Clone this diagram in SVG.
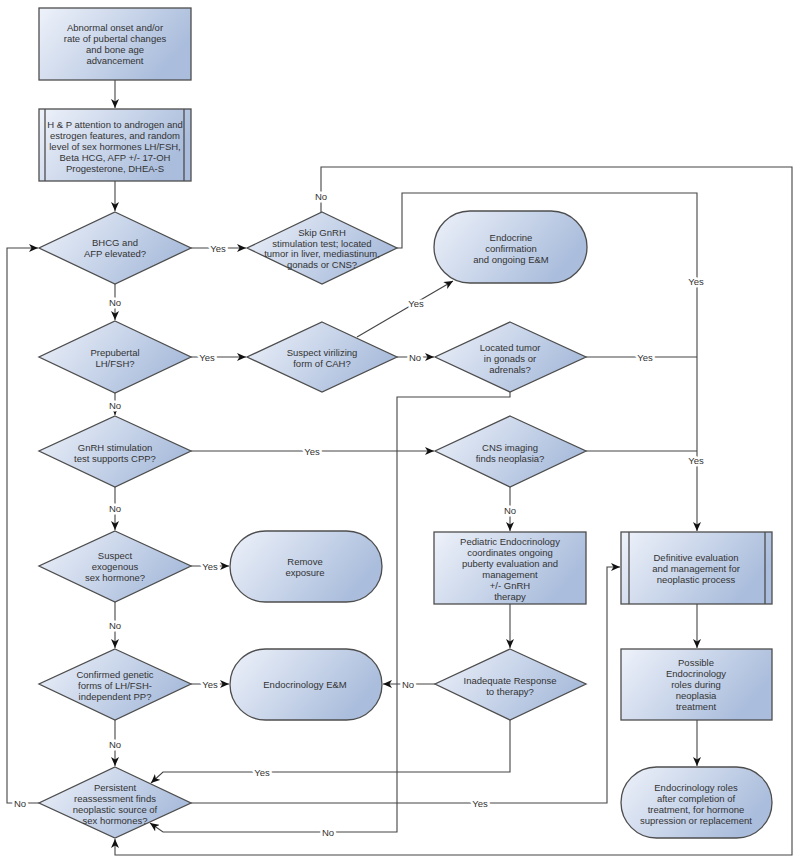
<svg xmlns="http://www.w3.org/2000/svg" width="800" height="863" viewBox="0 0 800 863">
<defs>
<linearGradient id="g" x1="0" y1="0" x2="1" y2="0.4">
<stop offset="0" stop-color="#eef2fa"/>
<stop offset="1" stop-color="#aabddc"/>
</linearGradient>
<marker id="ar" markerUnits="userSpaceOnUse" markerWidth="10" markerHeight="8" refX="9" refY="4" orient="auto">
<path d="M0,0 L9,4 L0,8 L2.5,4 Z" fill="#111"/>
</marker>
</defs>
<style>
.n{fill:url(#g);stroke:#4d4d4d;stroke-width:1.3}
.t{font-family:"Liberation Sans",Arial,sans-serif;font-size:9.5px;fill:#333;text-anchor:middle}
.c{fill:none;stroke:#444;stroke-width:1.1}
.a{marker-end:url(#ar)}
.l{font-family:"Liberation Sans",Arial,sans-serif;font-size:9.5px;fill:#333;text-anchor:middle;stroke:#fff;stroke-width:5;paint-order:stroke;stroke-linejoin:round}
.i{fill:none;stroke:#4d4d4d;stroke-width:1.3}
</style>
<rect width="800" height="863" fill="#fff"/>

<g id="connectors">
<path class="c a" d="M115,80 V108"/>
<path class="c a" d="M115,181 V211"/>
<path class="c a" d="M191,248 H246"/>
<path class="c a" d="M321,212 V167 H792 V855 H115 V839"/>
<path class="c a" d="M397,248 H402 V193 H697 V531"/>
<path class="c a" d="M115,284 V320"/>
<path class="c a" d="M191,357 H246"/>
<path class="c a" d="M357,337 L453,281"/>
<path class="c a" d="M397,357 H434"/>
<path class="c" d="M586,357 H697"/>
<path class="c a" d="M510,392 V397 H397 V832 H163 L150,823"/>
<path class="c a" d="M115,393 V415"/>
<path class="c a" d="M191,451 H434"/>
<path class="c" d="M586,451 H697"/>
<path class="c a" d="M115,487 V530"/>
<path class="c a" d="M510,487 V531"/>
<path class="c a" d="M191,566 H229"/>
<path class="c a" d="M115,602 V648"/>
<path class="c a" d="M191,684 H229"/>
<path class="c a" d="M115,720 V766"/>
<path class="c a" d="M510,604 V648"/>
<path class="c a" d="M435,684 H383"/>
<path class="c a" d="M510,720 V772 H163 L151,783"/>
<path class="c a" d="M39,803 H7 V248 H38"/>
<path class="c a" d="M191,803 H607 V567 H620"/>
<path class="c a" d="M697,604 V648"/>
<path class="c a" d="M697,720 V766"/>
<text class="l" x="115" y="305.5">No</text>
<text class="l" x="218" y="251.5">Yes</text>
<text class="l" x="321" y="199.5">No</text>
<text class="l" x="696" y="284.5">Yes</text>
<text class="l" x="207" y="360.5">Yes</text>
<text class="l" x="416" y="306.5">Yes</text>
<text class="l" x="415" y="360.5">No</text>
<text class="l" x="645" y="360.5">Yes</text>
<text class="l" x="115" y="408.5">No</text>
<text class="l" x="312" y="454.5">Yes</text>
<text class="l" x="696" y="463.5">Yes</text>
<text class="l" x="115" y="511.5">No</text>
<text class="l" x="510" y="513.5">No</text>
<text class="l" x="210" y="569.5">Yes</text>
<text class="l" x="115" y="628.5">No</text>
<text class="l" x="210" y="687.5">Yes</text>
<text class="l" x="408" y="687.5">No</text>
<text class="l" x="115" y="747.5">No</text>
<text class="l" x="262" y="775.5">Yes</text>
<text class="l" x="20" y="806.5">No</text>
<text class="l" x="480" y="806.5">Yes</text>
<text class="l" x="328" y="835.5">No</text>
</g>

<g id="start">
<rect class="n" x="39" y="8" width="152" height="72"/>
<text class="t" x="115" y="30.5">Abnormal onset and/or</text>
<text class="t" x="115" y="41.5">rate of pubertal changes</text>
<text class="t" x="115" y="52.5">and bone age</text>
<text class="t" x="115" y="63.5">advancement</text>
</g>

<g id="hp">
<rect class="n" x="39" y="109" width="152" height="72"/>
<path class="i" d="M45,109 V181 M184,109 V181"/>
<text class="t" x="115" y="127.5">H &amp; P attention to androgen and</text>
<text class="t" x="115" y="138.5">estrogen features, and random</text>
<text class="t" x="115" y="149.5">level of sex hormones LH/FSH,</text>
<text class="t" x="115" y="160.5">Beta HCG, AFP +/- 17-OH</text>
<text class="t" x="115" y="171.5">Progesterone, DHEA-S</text>
</g>

<g id="bhcg">
<polygon class="n" points="115,212 191,248 115,284 39,248"/>
<text class="t" x="115" y="245.5">BHCG and</text>
<text class="t" x="115" y="256.5">AFP elevated?</text>
</g>

<g id="skip">
<polygon class="n" points="322,212 397,248 322,284 247,248"/>
<text class="t" x="322" y="236">Skip GnRH</text>
<text class="t" x="322" y="246.5">stimulation test; located</text>
<text class="t" x="322" y="257">tumor in liver, mediastinum,</text>
<text class="t" x="322" y="267.5">gonads or CNS?</text>
</g>

<g id="endo-confirm">
<rect class="n" x="434" y="211" width="153" height="72" rx="36" ry="36"/>
<text class="t" x="511" y="240.5">Endocrine</text>
<text class="t" x="511" y="251.5">confirmation</text>
<text class="t" x="511" y="262.5">and ongoing E&amp;M</text>
</g>

<g id="prepubertal">
<polygon class="n" points="115,321 191,357 115,393 39,357"/>
<text class="t" x="115" y="355.5">Prepubertal</text>
<text class="t" x="115" y="366.5">LH/FSH?</text>
</g>

<g id="cah">
<polygon class="n" points="322,322 397,357 322,392 247,357"/>
<text class="t" x="322" y="355.5">Suspect virilizing</text>
<text class="t" x="322" y="366.5">form of CAH?</text>
</g>

<g id="located">
<polygon class="n" points="510,322 586,357 510,392 435,357"/>
<text class="t" x="510" y="350.5">Located tumor</text>
<text class="t" x="510" y="361.5">in gonads or</text>
<text class="t" x="510" y="372.5">adrenals?</text>
</g>

<g id="gnrh">
<polygon class="n" points="115,416 191,451 115,487 39,451"/>
<text class="t" x="115" y="450.5">GnRH stimulation</text>
<text class="t" x="115" y="461.5">test supports CPP?</text>
</g>

<g id="cns">
<polygon class="n" points="510,416 586,451 510,487 435,451"/>
<text class="t" x="510" y="450.5">CNS imaging</text>
<text class="t" x="510" y="461.5">finds neoplasia?</text>
</g>

<g id="exogenous">
<polygon class="n" points="115,531 191,566 115,602 39,566"/>
<text class="t" x="115" y="558.5">Suspect</text>
<text class="t" x="115" y="569.5">exogenous</text>
<text class="t" x="115" y="580.5">sex hormone?</text>
</g>

<g id="remove">
<rect class="n" x="230" y="531" width="152" height="71" rx="35.5" ry="35.5"/>
<text class="t" x="305" y="564.5">Remove</text>
<text class="t" x="305" y="575.5">exposure</text>
</g>

<g id="genetic">
<polygon class="n" points="115,649 191,684 115,720 39,684"/>
<text class="t" x="115" y="677.5">Confirmed genetic</text>
<text class="t" x="115" y="688.5">forms of LH/FSH-</text>
<text class="t" x="115" y="699.5">independent PP?</text>
</g>

<g id="endo-em">
<rect class="n" x="230" y="649" width="152" height="71" rx="35.5" ry="35.5"/>
<text class="t" x="305" y="688">Endocrinology E&amp;M</text>
</g>

<g id="pediatric">
<rect class="n" x="434" y="532" width="152" height="72"/>
<text class="t" x="510" y="544.5">Pediatric Endocrinology</text>
<text class="t" x="510" y="555.5">coordinates ongoing</text>
<text class="t" x="510" y="566.5">puberty evaluation and</text>
<text class="t" x="510" y="577.5">management</text>
<text class="t" x="510" y="588.5">+/- GnRH</text>
<text class="t" x="510" y="599.5">therapy</text>
</g>

<g id="inadequate">
<polygon class="n" points="510,649 586,684 510,720 435,684"/>
<text class="t" x="510" y="683.5">Inadequate Response</text>
<text class="t" x="510" y="694.5">to therapy?</text>
</g>

<g id="definitive">
<rect class="n" x="621" y="532" width="151" height="72"/>
<path class="i" d="M629,532 V604 M765,532 V604"/>
<text class="t" x="696" y="560.5">Definitive evaluation</text>
<text class="t" x="696" y="571.5">and management for</text>
<text class="t" x="696" y="582.5">neoplastic process</text>
</g>

<g id="possible">
<rect class="n" x="621" y="649" width="151" height="71"/>
<text class="t" x="696" y="665.5">Possible</text>
<text class="t" x="696" y="676.5">Endocrinology</text>
<text class="t" x="696" y="687.5">roles during</text>
<text class="t" x="696" y="698.5">neoplasia</text>
<text class="t" x="696" y="709.5">treatment</text>
</g>

<g id="persistent">
<polygon class="n" points="115,767 191,803 115,838 39,803"/>
<text class="t" x="115" y="790.5">Persistent</text>
<text class="t" x="115" y="801.5">reassessment finds</text>
<text class="t" x="115" y="812.5">neoplastic source of</text>
<text class="t" x="115" y="823.5">sex hormones?</text>
</g>

<g id="roles-after">
<rect class="n" x="621" y="767" width="151" height="71" rx="35.5" ry="35.5"/>
<text class="t" x="696" y="790.5">Endocrinology roles</text>
<text class="t" x="696" y="801.5">after completion of</text>
<text class="t" x="696" y="812.5">treatment, for hormone</text>
<text class="t" x="696" y="823.5">supression or replacement</text>
</g>
</svg>
